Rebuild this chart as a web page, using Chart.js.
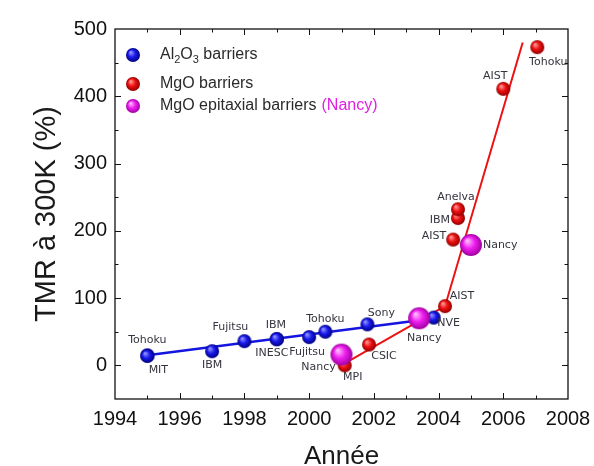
<!DOCTYPE html>
<html>
<head>
<meta charset="utf-8">
<title>TMR à 300K</title>
<script src="https://cdn.jsdelivr.net/npm/chart.js@4.4.1/dist/chart.umd.min.js"></script>
<style>
  html, body { margin: 0; padding: 0; background: #fff; }
</style>
</head>
<body>
<canvas id="tmrChart" width="594" height="466"></canvas>
<script>
// values
const xTicks = [1994, 1996, 1998, 2000, 2002, 2004, 2006, 2008];
const yTicks = [0, 100, 200, 300, 400, 500];

const alYears = [1995, 1995, 1997, 1998, 1999, 1999, 2000, 2000.5, 2001.8, 2003.85];
const alTmr = [15, 14, 21, 36, 39, 39, 42, 50, 61, 71];
const alNames = ['Tohoku', 'MIT', 'IBM', 'Fujitsu', 'IBM', 'INESC', 'Fujitsu', 'Tohoku', 'Sony', 'NVE'];

const mgoYears = [2001.1, 2001.85, 2004.2, 2004.45, 2004.6, 2004.6, 2006, 2007.05];
const mgoTmr = [0, 31, 88, 187, 219, 232, 411, 473];
const mgoNames = ['MPI', 'CSIC', 'AIST', 'AIST', 'IBM', 'Anelva', 'AIST', 'Tohoku'];

const epiYears = [2001, 2003.4, 2005];
const epiTmr = [16, 70, 179];
const epiNames = ['Nancy', 'Nancy', 'Nancy'];

// the two trend lines
const alFitYears = [1995, 2003.9];
const alFitTmr = [15, 70];
const mgoFitYears = [2001.1, 2004.2, 2006.6];
const mgoFitTmr = [3, 88, 480];

// where each name sits next to its ball: dx, dy, align
const alOffs = [[0, -15], [11, 14], [0, 14], [-14, -14], [-1, -14], [-5, 14], [-2, 15], [0, -13], [14, -11], [15, 6]];
const mgoOffs = [[8, 12], [15, 12], [17, -10], [-7, -3, 'right'], [-8, 2, 'right'], [-2, -12], [-8, -13], [11, 15]];
const epiOffs = [[-23, 13], [5, 20], [12, 0, 'left']];

function toXY(xs, ys) {
  return xs.map((x, i) => ({ x: x, y: ys[i] }));
}

// little shaded balls used as point styles
function ball(r, hi, mid, lo) {
  const c = document.createElement('canvas');
  c.width = c.height = 2 * r + 2;
  const g = c.getContext('2d');
  const cx = r + 1, cy = r + 1;
  const grad = g.createRadialGradient(cx - r * 0.35, cy - r * 0.4, r * 0.05, cx, cy, r);
  grad.addColorStop(0, hi);
  grad.addColorStop(0.5, mid);
  grad.addColorStop(1, lo);
  g.fillStyle = grad;
  g.beginPath();
  g.arc(cx, cy, r, 0, Math.PI * 2);
  g.fill();
  return c;
}

const blueBall = ball(7, '#9a9aff', '#1a1aee', '#000080');
const redBall = ball(7, '#ffa0a0', '#f01010', '#900000');
const pinkBig = ball(11, '#ffc0ff', '#f020f0', '#a000a0');
const pinkSmall = ball(7, '#ffc0ff', '#f020f0', '#a000a0');

const axisFont = { family: '"Liberation Sans", Arial, sans-serif', size: 20 };

// frame + inward ticks on all four sides
const framePlugin = {
  id: 'frame',
  afterDraw(chart) {
    const g = chart.ctx;
    const a = chart.chartArea;
    const sx = chart.scales.x, sy = chart.scales.y;
    g.save();
    g.strokeStyle = '#111';
    g.lineWidth = 1.3;
    g.strokeRect(a.left, a.top, a.right - a.left, a.bottom - a.top);
    g.lineWidth = 1;
    g.beginPath();
    for (let yr = 1995; yr < 2008; yr++) {
      const px = Math.round(sx.getPixelForValue(yr)) + 0.5;
      const len = yr % 2 === 0 ? 6 : 3.5;
      g.moveTo(px, a.bottom); g.lineTo(px, a.bottom - len);
      g.moveTo(px, a.top); g.lineTo(px, a.top + len);
    }
    for (let v = 0; v < 500; v += 50) {
      const py = Math.round(sy.getPixelForValue(v)) + 0.5;
      const len = v % 100 === 0 ? 6 : 3.5;
      g.moveTo(a.left, py); g.lineTo(a.left + len, py);
      g.moveTo(a.right, py); g.lineTo(a.right - len, py);
    }
    g.stroke();
    g.restore();
  }
};

// names next to the balls
const namesPlugin = {
  id: 'names',
  afterDatasetsDraw(chart) {
    const g = chart.ctx;
    g.save();
    g.font = '11px "DejaVu Sans", Verdana, sans-serif';
    g.fillStyle = '#34343e';
    g.textBaseline = 'middle';
    chart.data.datasets.forEach((ds, i) => {
      if (!ds.names) return;
      chart.getDatasetMeta(i).data.forEach((pt, j) => {
        const o = ds.offs[j];
        g.textAlign = o[2] || 'center';
        g.fillText(ds.names[j], pt.x + o[0], pt.y + o[1]);
      });
    });
    g.restore();
  }
};

// legend inside the plot, with subscripts and the pink note
function drawRich(g, text, x, y) {
  // digits right after a letter become subscripts
  let cx = x;
  for (let i = 0; i < text.length; i++) {
    const ch = text[i];
    const sub = /[0-9]/.test(ch) && i > 0 && /[A-Za-z]/.test(text[i - 1]);
    g.font = sub ? '11px "Liberation Sans", Arial' : '16px "Liberation Sans", Arial';
    g.fillText(ch, cx, sub ? y + 5 : y);
    cx += g.measureText(ch).width;
  }
  return cx;
}

const legendPlugin = {
  id: 'insideLegend',
  afterDatasetsDraw(chart) {
    const g = chart.ctx;
    const a = chart.chartArea;
    const rows = [26, 55, 77];
    g.save();
    g.textBaseline = 'middle';
    g.textAlign = 'left';
    let k = 0;
    chart.data.datasets.forEach(ds => {
      if (!ds.names) return;
      const y = a.top + rows[k++];
      const img = ds.legendBall || ds.pointStyle;
      g.drawImage(img, a.left + 18 - img.width / 2, y - img.height / 2);
      g.fillStyle = '#2a2a2a';
      const end = drawRich(g, ds.label, a.left + 45, y);
      if (ds.note) {
        g.fillStyle = '#e020e0';
        g.font = '16px "Liberation Sans", Arial';
        g.fillText(ds.note, end + 5, y);
      }
    });
    g.restore();
  }
};

const ctx = document.getElementById('tmrChart').getContext('2d');
new Chart(ctx, {
  type: 'scatter',
  data: {
    datasets: [
      {
        label: 'Al2O3 barriers',
        data: toXY(alYears, alTmr),
        pointStyle: blueBall,
        names: alNames,
        offs: alOffs,
        order: 3
      },
      {
        label: 'MgO barriers',
        data: toXY(mgoYears, mgoTmr),
        pointStyle: redBall,
        names: mgoNames,
        offs: mgoOffs,
        order: 2
      },
      {
        label: 'MgO epitaxial barriers',
        note: '(Nancy)',
        data: toXY(epiYears, epiTmr),
        pointStyle: pinkBig,
        legendBall: pinkSmall,
        names: epiNames,
        offs: epiOffs,
        order: 1
      },
      {
        type: 'line',
        data: toXY(alFitYears, alFitTmr),
        borderColor: '#1515e0',
        borderWidth: 2.5,
        pointRadius: 0,
        showLine: true,
        order: 5
      },
      {
        type: 'line',
        data: toXY(mgoFitYears, mgoFitTmr),
        borderColor: '#ee1111',
        borderWidth: 2,
        pointRadius: 0,
        showLine: true,
        order: 4
      }
    ]
  },
  options: {
    responsive: false,
    animation: false,
    layout: { padding: { top: 29, right: 26, left: 0, bottom: -6 } },
    plugins: { legend: { display: false }, tooltip: { enabled: false } },
    scales: {
      x: {
        type: 'linear',
        min: 1994,
        max: 2008,
        afterBuildTicks: s => { s.ticks = xTicks.map(v => ({ value: v })); },
        afterFit: s => { s.height = 73; s.paddingRight = 0; s.paddingLeft = 0; },
        grid: { display: false, drawTicks: false },
        border: { display: false },
        ticks: {
          font: axisFont, color: '#111', padding: 8, autoSkip: false, maxRotation: 0,
          callback: v => String(v)
        },
        title: {
          display: true,
          text: 'Année',
          color: '#1a1a1a',
          font: { family: '"Liberation Sans", Arial, sans-serif', size: 26 },
          padding: { top: 0, bottom: 0 }
        }
      },
      y: {
        min: -50,
        max: 500,
        afterBuildTicks: s => { s.ticks = yTicks.map(v => ({ value: v })); },
        afterFit: s => { s.width = 115; },
        grid: { display: false, drawTicks: false },
        border: { display: false },
        ticks: { font: axisFont, color: '#111', padding: 8, autoSkip: false },
        title: {
          display: true,
          text: 'TMR à 300K (%)',
          color: '#1a1a1a',
          font: { family: '"Liberation Sans", Arial, sans-serif', size: 29 },
          padding: { top: 30, bottom: 0 }
        }
      }
    }
  },
  plugins: [framePlugin, namesPlugin, legendPlugin]
});
</script>
</body>
</html>
